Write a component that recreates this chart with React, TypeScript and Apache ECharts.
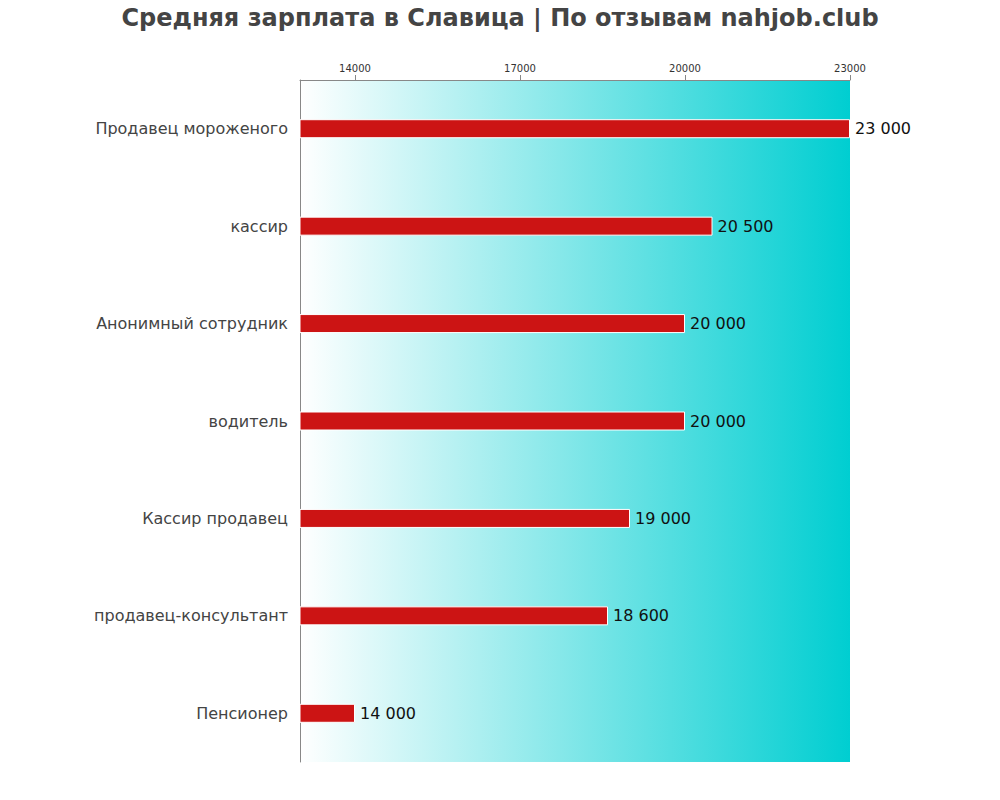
import React, { useEffect, useRef } from "react";
import * as echarts from "echarts";

const titleText = "Средняя зарплата в Славица | По отзывам nahjob.club";
const categories = [
  "Продавец мороженого",
  "кассир",
  "Анонимный сотрудник",
  "водитель",
  "Кассир продавец",
  "продавец-консультант",
  "Пенсионер",
];
const salaries = [23000, 20500, 20000, 20000, 19000, 18600, 14000];
const tickValues = [14000, 17000, 20000, 23000];
const axisMin = 13000;
const axisMax = 23000;

const FONT = "DejaVu Sans";
const fmt = (v: number) => String(v).replace(/\B(?=(\d{3})+(?!\d))/g, " ");

export default function App() {
  const ref = useRef<HTMLDivElement>(null);
  useEffect(() => {
    if (!ref.current) return;
    const chart = echarts.init(ref.current, undefined, { renderer: "svg" });
    chart.setOption({
      animation: false,
      textStyle: { fontFamily: FONT },
      title: {
        text: titleText,
        left: "center",
        top: 1,
        textStyle: { fontSize: 24, fontWeight: "bold", color: "#444", fontFamily: FONT },
      },
      grid: {
        left: 300,
        right: 150,
        top: 80,
        bottom: 38,
        show: true,
        borderWidth: 0,
        backgroundColor: new echarts.graphic.LinearGradient(0, 0, 1, 0, [
          { offset: 0, color: "#ffffff" },
          { offset: 1, color: "#00CED1" },
        ]),
      },
      xAxis: {
        type: "value",
        position: "top",
        min: axisMin,
        max: axisMax,
        splitLine: { show: false },
        axisLine: { show: true, lineStyle: { color: "#888", width: 1 } },
        axisTick: { show: true, length: 5, customValues: tickValues, lineStyle: { color: "#888" } },
        axisLabel: {
          customValues: tickValues,
          fontSize: 10,
          color: "#333",
          margin: 7,
          fontFamily: FONT,
          formatter: (v: number) => String(v),
        },
      },
      yAxis: {
        type: "category",
        data: categories,
        inverse: true,
        axisLine: { show: true, lineStyle: { color: "#888", width: 1 } },
        axisTick: { show: false },
        axisLabel: { fontSize: 16, color: "#444", margin: 12, fontFamily: FONT, padding: [0, 0, 4, 0] },
      },
      series: [
        {
          type: "bar",
          data: salaries,
          barWidth: 19,
          itemStyle: { color: "#CC1414", borderColor: "#ffffff", borderWidth: 1 },
          label: {
            show: true,
            position: "right",
            distance: 5,
            fontSize: 16,
            color: "#111",
            fontFamily: FONT,
            formatter: (p: any) => fmt(p.value),
          },
        },
      ],
    });
    return () => chart.dispose();
  }, []);
  return <div ref={ref} style={{ width: 1000, height: 800, margin: -8 }} />;
}
